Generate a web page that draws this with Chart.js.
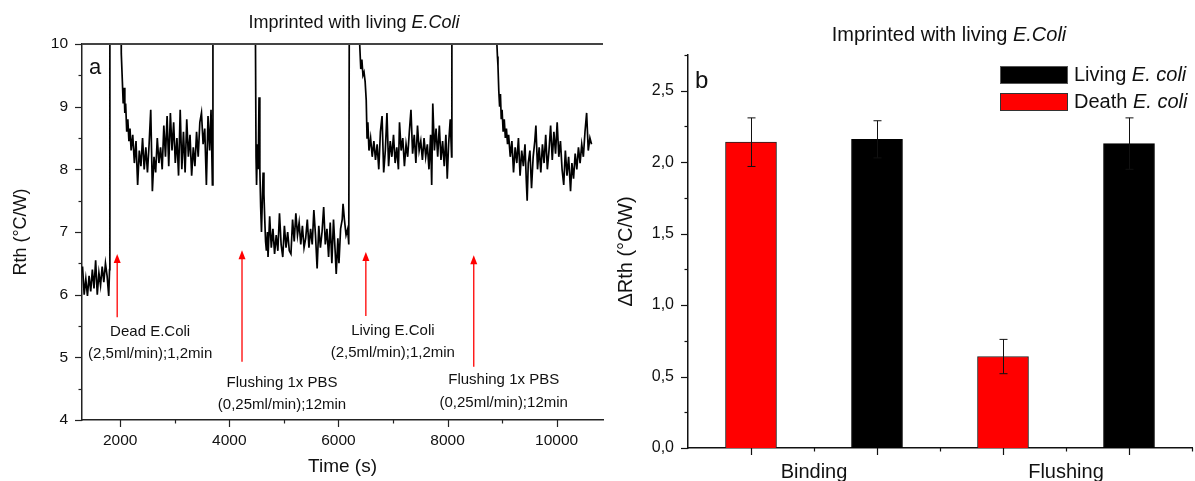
<!DOCTYPE html>
<html><head><meta charset="utf-8">
<script src="https://cdn.jsdelivr.net/npm/chart.js@4.4.0/dist/chart.umd.min.js"></script>
<style>
html,body{margin:0;padding:0;background:#fff;width:1195px;height:481px;overflow:hidden;position:relative}
canvas{position:absolute;top:0}
#ca{left:0}
#cb{left:610px}
</style></head><body>
<canvas id="ca" width="615" height="481"></canvas>
<canvas id="cb" width="585" height="481"></canvas>
<script>
const FONT = "'Liberation Sans', Arial, sans-serif";

// ---------- Panel a : Rth versus time ----------
const timeS = [
  1310,1340,1370,1400,1430,1460,1490,1520,1550,1580,1610,1640,1670,1700,1730,1760,1790,1805,1810,1812,2015,
  2020,2040,2055,2070,2085,2100,2120,2140,2160,2180,
  2200,2230,2260,2290,2320,2350,2380,2410,2440,2470,
  2500,2530,2560,2590,2620,2650,2680,2710,2740,2770,
  2800,2830,2860,2890,2920,2950,2980,3010,3040,3070,
  3100,3130,3160,3190,3220,3250,3280,3310,3340,3370,
  3400,3430,3460,3490,3520,3550,3580,3610,3640,3665,
  3690,3700,4470,
  4480,4490,4500,4515,4530,4545,4560,4575,4590,4605,
  4620,4635,4650,4665,4680,4700,4710,4740,4770,4800,
  4830,4860,4890,4920,4950,4980,5010,5040,5070,5100,
  5130,5160,5190,5220,5250,5280,5310,5340,5370,5400,
  5430,5460,5490,5520,5550,5580,5610,5640,5670,5700,
  5730,5760,5790,5820,5850,5880,5910,5940,5960,5990,
  6010,6040,6070,6085,6110,6140,6170,6190,6200,6380,
  6390,6410,6430,6450,6470,6490,6510,6525,6540,6560,
  6590,6620,6650,6680,6710,6740,6770,6800,6830,6860,
  6890,6920,6950,6980,7010,7040,7070,7100,7120,7150,
  7180,7210,7240,7270,7300,7330,7360,7390,7420,7450,
  7480,7510,7540,7570,7600,7630,7660,7690,7710,7730,
  7760,7790,7820,7850,7880,7910,7940,7970,7995,8020,
  8050,8075,8080,8900,
  8905,8915,8925,8940,8955,8970,8985,9000,9020,9040,
  9060,9080,9100,9120,9150,9180,9210,9240,9270,9300,
  9330,9360,9390,9420,9445,9460,9480,9510,9540,9570,
  9600,9620,9650,9680,9710,9740,9770,9800,9830,9860,
  9890,9920,9950,9980,10010,10040,10070,10100,10130,10160,
  10190,10220,10255,10280,10310,10340,10370,10400,10430,10460,
  10490,10520,10550,10580,10610,10640
];
const rth = [
  6.45,6.0,6.25,5.98,6.3,6.05,6.4,6.1,6.55,6.0,6.35,6.15,6.45,6.2,6.5,6.3,5.98,6.4,8.2,10.6,10.6,
  9.85,9.4,9.05,9.3,8.9,9.05,8.6,8.8,8.45,8.65,
  8.3,8.55,8.1,8.45,7.75,8.3,8.05,8.5,8.0,8.35,
  7.95,8.4,8.95,7.65,8.2,7.95,8.5,8.1,8.35,8.0,
  8.7,8.2,8.85,8.05,8.9,8.3,8.75,8.1,8.5,7.9,
  8.95,8.0,8.6,7.95,8.8,8.2,8.55,7.9,8.35,8.05,
  8.6,8.2,8.75,8.9,8.4,8.65,7.75,8.85,8.3,8.95,
  7.75,10.6,10.6,
  10.0,8.2,7.75,8.4,8.0,9.15,8.0,7.4,7.0,7.5,
  7.95,7.6,7.2,6.85,6.7,7.0,6.6,7.25,6.75,7.05,
  6.65,6.95,6.7,7.3,6.8,6.6,7.1,6.75,7.0,6.7,
  6.65,7.2,6.85,7.3,6.95,7.15,6.8,7.1,6.75,6.9,
  7.2,6.75,7.05,6.8,7.35,6.95,6.42,7.1,6.75,7.0,
  7.4,6.8,7.05,6.6,7.15,6.5,7.2,6.7,6.33,6.9,
  6.5,7.05,7.2,7.45,7.2,6.95,7.05,6.8,10.6,10.6,
  10.0,9.6,9.75,9.5,9.55,9.4,9.1,8.5,8.75,8.3,
  8.5,8.2,8.45,8.15,8.4,8.0,8.6,8.85,7.95,8.3,
  8.9,8.05,8.45,8.2,8.55,8.1,8.35,8.0,8.75,8.3,
  8.5,8.05,8.4,8.2,8.6,8.95,8.25,8.55,8.1,8.7,
  8.3,8.45,8.15,8.5,8.2,8.4,8.0,8.55,7.75,9.05,
  8.3,8.65,8.2,8.7,8.15,8.45,8.05,8.55,7.85,8.4,
  8.8,8.2,10.6,10.6,
  10.0,9.8,9.65,9.25,9.0,9.2,8.8,8.95,8.6,8.8,
  8.5,8.65,8.4,8.55,8.2,8.45,7.95,8.35,8.1,8.5,
  7.9,8.3,8.05,8.4,7.8,7.5,8.1,8.3,7.7,8.2,
  8.45,8.7,8.0,8.35,7.95,8.4,8.1,8.55,8.0,8.3,
  8.7,8.15,8.6,8.25,8.75,8.2,8.45,8.0,7.75,8.3,
  7.9,8.2,7.65,8.1,7.85,8.25,8.0,8.35,8.1,8.4,
  8.2,8.6,8.9,8.3,8.5,8.4
];
const xTicksA = [2000,4000,6000,8000,10000];
const xMinorA = [3000,5000,7000,9000];
const yTicksA = [4,5,6,7,8,9,10];
const yMinorA = [4.5,5.5,6.5,7.5,8.5,9.5];

// injection / flushing arrows (data units)
const arrowX    = [1945,4233,6503,8481];
const arrowTipY = [6.65,6.71,6.68,6.63];
const arrowEndY = [5.64,4.93,5.66,4.85];

// step annotations (data units)
const noteText = ['Dead E.Coli','(2,5ml/min);1,2min','Flushing 1x PBS','(0,25ml/min);12min',
                  'Living E.Coli','(2,5ml/min);1,2min','Flushing 1x PBS','(0,25ml/min);12min'];
const noteX = [2549,2549,4966,4966,6998,6998,9030,9030];
const noteY = [5.40,5.05,4.59,4.24,5.42,5.07,4.64,4.27];

// ---------- Panel b : delta Rth bars ----------
const categoriesB = ['Binding','Flushing'];
const deathVals   = [2.14,0.64];
const deathErr    = [0.17,0.12];
const livingVals  = [2.16,2.13];
const livingErr   = [0.13,0.18];
const deathPos    = [1,3];
const livingPos   = [2,4];
const labelPosB   = [1.5,3.5];
const xMinorB     = [1.5,2.5,3.5,4.5];
const yTicksB     = [0,0.5,1,1.5,2,2.5];
const yMinorB     = [0.25,0.75,1.25,1.75,2.25,2.75];

Chart.defaults.color = '#111';
Chart.defaults.font.family = FONT;

function f(size, italic){ return (italic ? 'italic ' : '') + size + 'px ' + FONT; }
function mixedText(ctx, parts, cx, cy, size){
  ctx.textBaseline = 'middle'; ctx.textAlign = 'left'; ctx.fillStyle = '#111';
  let w = 0;
  parts.forEach(p => { ctx.font = f(size, p.i); p.w = ctx.measureText(p.t).width; w += p.w; });
  let xx = cx - w / 2;
  parts.forEach(p => { ctx.font = f(size, p.i); ctx.fillText(p.t, xx, cy); xx += p.w; });
}
function ticksX(ctx, sc, vals, yy, len){
  vals.forEach(v => { const p = Math.round(sc.getPixelForValue(v)) + 0.5;
    ctx.beginPath(); ctx.moveTo(p, yy); ctx.lineTo(p, yy + len); ctx.stroke(); });
}
function ticksY(ctx, sc, vals, xx, len){
  vals.forEach(v => { const p = Math.round(sc.getPixelForValue(v)) + 0.5;
    ctx.beginPath(); ctx.moveTo(xx, p); ctx.lineTo(xx - len, p); ctx.stroke(); });
}

const plugA = {
  id: 'decorA',
  afterDraw(chart){
    const {ctx, chartArea: ca, scales: {x, y}} = chart;
    ctx.save();
    ctx.strokeStyle = '#444'; ctx.lineWidth = 2;
    ctx.beginPath(); ctx.moveTo(ca.left, ca.top); ctx.lineTo(ca.right, ca.top); ctx.stroke();
    ctx.strokeStyle = '#222'; ctx.lineWidth = 1.2;
    ticksX(ctx, x, xTicksA, ca.bottom, 7);
    ticksX(ctx, x, xMinorA, ca.bottom, 3.5);
    ticksY(ctx, y, yTicksA, ca.left, 7);
    ticksY(ctx, y, yMinorA, ca.left, 3.5);
    arrowX.forEach((ax, i) => {
      const px = x.getPixelForValue(ax), pt = y.getPixelForValue(arrowTipY[i]), pb = y.getPixelForValue(arrowEndY[i]);
      ctx.strokeStyle = '#ff0000'; ctx.fillStyle = '#ff0000'; ctx.lineWidth = 1.3;
      ctx.beginPath(); ctx.moveTo(px, pb); ctx.lineTo(px, pt + 8); ctx.stroke();
      ctx.beginPath(); ctx.moveTo(px, pt); ctx.lineTo(px - 3.5, pt + 9); ctx.lineTo(px + 3.5, pt + 9); ctx.closePath(); ctx.fill();
    });
    ctx.fillStyle = '#111'; ctx.font = f(15); ctx.textAlign = 'center'; ctx.textBaseline = 'middle';
    noteText.forEach((t, i) => ctx.fillText(t, x.getPixelForValue(noteX[i]), y.getPixelForValue(noteY[i])));
    mixedText(ctx, [{t: 'Imprinted with living '}, {t: 'E.Coli', i: true}], 354, 23, 18);
    ctx.font = f(22); ctx.textAlign = 'left'; ctx.textBaseline = 'alphabetic'; ctx.fillStyle = '#111';
    ctx.fillText('a', 89, 74);
    ctx.restore();
  }
};

new Chart(document.getElementById('ca'), {
  type: 'line',
  data: { datasets: [{
    data: timeS.map((t, i) => ({x: t, y: rth[i]})),
    borderColor: '#000', borderWidth: 1.7, pointRadius: 0, tension: 0, fill: false
  }]},
  options: {
    responsive: false, animation: false, devicePixelRatio: 1,
    layout: {padding: {top: 44, right: 12, left: 0, bottom: 0}},
    plugins: {legend: {display: false}, tooltip: {enabled: false}, title: {display: false}},
    scales: {
      x: {
        type: 'linear', min: 1300, max: 10850,
        afterFit: s => { s.height = 61; },
        afterBuildTicks: s => { s.ticks = xTicksA.map(v => ({value: v})); },
        grid: {display: false, drawTicks: false},
        border: {display: true, color: '#222', width: 1.5},
        ticks: {font: {size: 15.5}, color: '#111', padding: 11, maxRotation: 0, autoSkip: false, callback: v => String(v)},
        title: {display: true, text: 'Time (s)', font: {size: 19}, color: '#111', padding: {top: 0, bottom: 3}}
      },
      y: {
        min: 4, max: 10,
        afterFit: s => { s.width = 82; },
        afterBuildTicks: s => { s.ticks = yTicksA.map(v => ({value: v})); },
        grid: {display: false, drawTicks: false},
        border: {display: true, color: '#222', width: 1.5},
        ticks: {font: {size: 15.5}, color: '#111', padding: 14, callback: v => String(v)},
        title: {display: true, text: 'Rth (°C/W)', font: {size: 18}, color: '#111', padding: {top: 10, bottom: 0}}
      }
    }
  },
  plugins: [plugA]
});

const plugB = {
  id: 'decorB',
  afterDatasetsDraw(chart){
    const {ctx, scales: {y}} = chart;
    ctx.save();
    ctx.strokeStyle = '#111'; ctx.lineWidth = 1;
    [[deathVals, deathErr], [livingVals, livingErr]].forEach((pair, d) => {
      const meta = chart.getDatasetMeta(d);
      meta.data.forEach((el, i) => {
        const px = Math.round(el.x) + 0.5;
        const pTop = y.getPixelForValue(pair[0][i] + pair[1][i]);
        const pBot = y.getPixelForValue(pair[0][i] - pair[1][i]);
        ctx.beginPath(); ctx.moveTo(px, pTop); ctx.lineTo(px, pBot);
        ctx.moveTo(px - 4, pTop); ctx.lineTo(px + 4, pTop);
        ctx.moveTo(px - 4, pBot); ctx.lineTo(px + 4, pBot); ctx.stroke();
      });
    });
    ctx.restore();
  },
  afterDraw(chart){
    const {ctx, chartArea: ca, scales: {x, y}} = chart;
    ctx.save();
    ctx.strokeStyle = '#111'; ctx.lineWidth = 1.2;
    ticksX(ctx, x, [...deathPos, ...livingPos], ca.bottom, 7);
    ticksX(ctx, x, xMinorB, ca.bottom, 3.5);
    ticksY(ctx, y, yTicksB, ca.left, 7);
    ticksY(ctx, y, yMinorB, ca.left, 3.5);
    ctx.lineWidth = 1;
    ctx.fillStyle = '#000'; ctx.fillRect(390, 66, 67, 17);
    ctx.strokeStyle = '#555'; ctx.strokeRect(390.5, 66.5, 67, 17);
    ctx.fillStyle = '#ff0000'; ctx.fillRect(390, 93, 67, 17);
    ctx.strokeStyle = '#333'; ctx.strokeRect(390.5, 93.5, 67, 17);
    ctx.fillStyle = '#111'; ctx.textBaseline = 'middle'; ctx.textAlign = 'left';
    const leg = [[['Living ', false], ['E. coli', true]], [['Death ', false], ['E. coli', true]]];
    leg.forEach((parts, r) => {
      let xx = 464; const yy = r === 0 ? 75 : 102;
      parts.forEach(([t, it]) => { ctx.font = f(20, it); ctx.fillText(t, xx, yy); xx += ctx.measureText(t).width; });
    });
    mixedText(ctx, [{t: 'Imprinted with living '}, {t: 'E.Coli', i: true}], 339, 35, 20);
    ctx.font = f(24); ctx.textAlign = 'left'; ctx.textBaseline = 'alphabetic'; ctx.fillStyle = '#111';
    ctx.fillText('b', 85, 88);
    ctx.restore();
  }
};

new Chart(document.getElementById('cb'), {
  type: 'bar',
  data: { datasets: [
    { label: 'Death E. coli', data: deathPos.map((p, i) => ({x: p, y: deathVals[i]})),
      backgroundColor: '#ff0000', borderColor: '#222', borderWidth: 1, barThickness: 51, grouped: false },
    { label: 'Living E. coli', data: livingPos.map((p, i) => ({x: p, y: livingVals[i]})),
      backgroundColor: '#000', borderColor: '#000', borderWidth: 1, barThickness: 51, grouped: false }
  ]},
  options: {
    responsive: false, animation: false, devicePixelRatio: 1,
    layout: {padding: {top: 55, right: 3, left: 0, bottom: 0}},
    plugins: {legend: {display: false}, tooltip: {enabled: false}, title: {display: false}},
    scales: {
      x: {
        type: 'linear', min: 0.5, max: 4.5, offset: false,
        afterFit: s => { s.height = 33; },
        afterBuildTicks: s => { s.ticks = labelPosB.map(v => ({value: v})); },
        grid: {display: false, drawTicks: false},
        border: {display: true, color: '#111', width: 1.5},
        ticks: {font: {size: 20}, color: '#111', padding: 12, maxRotation: 0, autoSkip: false,
                callback: (v, i) => categoriesB[i]}
      },
      y: {
        min: 0, max: 2.75,
        afterFit: s => { s.width = 78; },
        afterBuildTicks: s => { s.ticks = yTicksB.map(v => ({value: v})); },
        grid: {display: false, drawTicks: false},
        border: {display: true, color: '#111', width: 1.5},
        ticks: {font: {size: 16}, color: '#111', padding: 14, callback: v => Number(v).toFixed(1).replace('.', ',')},
        title: {display: true, text: 'ΔRth (°C/W)', font: {size: 20}, color: '#111', padding: {top: 4, bottom: 0}}
      }
    }
  },
  plugins: [plugB]
});
</script>
</body></html>
